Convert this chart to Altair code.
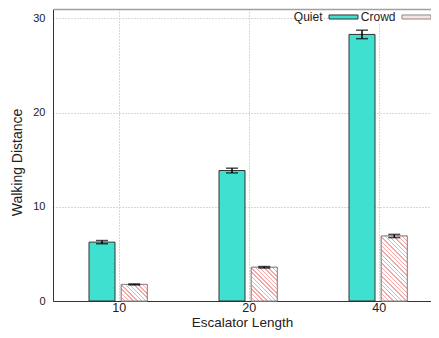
import json
import math
import altair as alt
import pandas as pd

# ---- data ----
lengths = ["10", "20", "40"]
series = ["Quiet", "Crowd"]
quiet = [6.25, 13.85, 28.3]
quiet_err = [0.17, 0.25, 0.45]
crowd = [1.76, 3.58, 6.9]
crowd_err = [0.05, 0.08, 0.17]

# ---- layout / style ----
Y_MAX = 31
PX_PER_X = 130
PLOT_W, PLOT_H = 378, 292
X_DOM = [0.495, 0.495 + PLOT_W / PX_PER_X]
BAR_W = 0.2
FONT = "Liberation Sans"
TEAL = "#40e0d0"
HATCH = "#f5a8a8"

rows = []
for i, L in enumerate(lengths):
    rows.append({"idx": i + 1, "length": L, "series": "Quiet", "value": quiet[i], "err": quiet_err[i]})
    rows.append({"idx": i + 1, "length": L, "series": "Crowd", "value": crowd[i], "err": crowd_err[i]})
df = pd.DataFrame(rows)

base = alt.Chart(df).transform_calculate(
    off="datum.series === 'Quiet' ? -0.228 : 0.02"
).transform_calculate(
    x0="datum.idx + datum.off",
    x1=f"datum.idx + datum.off + {BAR_W}",
    xc=f"datum.idx + datum.off + {BAR_W / 2}",
    lo="datum.value - datum.err",
    hi="datum.value + datum.err",
)

xscale = alt.Scale(domain=X_DOM, nice=False, zero=False)
yscale = alt.Scale(domain=[0, Y_MAX], nice=False)

label_expr = f"{json.dumps(lengths)}[datum.value - 1]"

x_axis = alt.Axis(
    values=[1, 2, 3], labelExpr=label_expr, title="Escalator Length",
    grid=True, gridDash=[1, 2], gridColor="#b0b0b0", domainColor="#333333",
    ticks=False, labelPadding=0, labelFontSize=12.5, titleFontSize=13.5,
    titleFontWeight="normal", titleBaseline="alphabetic", titleY=25,
)
y_axis = alt.Axis(
    values=[0, 10, 20, 30], title="Walking Distance",
    grid=True, gridDash=[1, 2], gridColor="#b0b0b0", domainColor="#333333",
    ticks=False, labelPadding=8, labelFontSize=11, titleFontSize=14,
    titleFontWeight="normal", titleBaseline="alphabetic", titleX=-32, titleY=153,
)

legend = alt.Legend(
    orient="none", legendX=281.5, legendY=-1, direction="horizontal", title=None,
    labelFontSize=12, labelFont=FONT, labelColor="#222222",
    symbolType="M-2,-0.28H2V0.28H-2Z", symbolSize=210, symbolStrokeWidth=1,
    labelAlign="right", labelOffset={"expr": "-29"}, columnPadding=0,
    padding=1, fillColor="white", zindex=0,
)

bars = base.mark_bar(strokeWidth=1).encode(
    x=alt.X("x0:Q", scale=xscale, axis=x_axis),
    x2="x1:Q",
    y=alt.Y("value:Q", scale=yscale, axis=y_axis),
    y2=alt.datum(0),
    fill=alt.Fill("series:N", scale=alt.Scale(domain=series, range=[TEAL, "#fbe2e2"]), legend=legend),
    stroke=alt.Stroke("series:N", scale=alt.Scale(domain=series, range=["#333333", "#8a8a8a"]), legend=legend),
)

# hatch overlay for the Crowd bars (diagonal stripes through a gradient)
W = BAR_W * PX_PER_X
hatch_layers = []
for i, v in enumerate(crowd):
    H = v / Y_MAX * PLOT_H
    s = (W + H) / (W * W + H * H)
    n = max(1, round((W + H) / math.sqrt(2) / 3.1))
    stops = []
    for k in range(n):
        a = k / n
        b = (k + 0.66) / n
        c = (k + 1) / n
        stops += [
            alt.GradientStop(color="white", offset=a),
            alt.GradientStop(color="white", offset=b),
            alt.GradientStop(color=HATCH, offset=b),
            alt.GradientStop(color=HATCH, offset=c),
        ]
    grad = alt.LinearGradient(gradient="linear", stops=stops, x1=0, y1=1, x2=s * W, y2=1 - s * H)
    hatch_layers.append(
        base.transform_filter(f"datum.series === 'Crowd' && datum.idx === {i + 1}")
        .mark_bar(fill=grad, stroke="#8a8a8a", strokeWidth=1)
        .encode(
            x=alt.X("x0:Q", scale=xscale, axis=None),
            x2="x1:Q",
            y=alt.Y("value:Q", scale=yscale, axis=y_axis),
            y2=alt.datum(0),
        )
    )

rules = base.mark_rule(color="black", strokeWidth=1.5).encode(
    x=alt.X("xc:Q", scale=xscale, axis=alt.Axis(orient="top", labels=False, ticks=False, grid=False,
                                                 domainColor="#a0a0a0", domainWidth=1.5, title=None,
                                                 zindex=2)),
    y=alt.Y("lo:Q", scale=yscale, axis=y_axis),
    y2="hi:Q",
)

caps = base.transform_fold(["lo", "hi"], as_=["end", "yv"]).mark_tick(
    orient="horizontal", size=12, thickness=1.5, color="black"
).encode(
    x=alt.X("xc:Q", scale=xscale, axis=None),
    y=alt.Y("yv:Q", scale=yscale, axis=y_axis),
)

chart = alt.layer(bars, *hatch_layers, rules, caps).resolve_axis(x="independent").properties(
    width=PLOT_W, height=PLOT_H,
    autosize=alt.AutoSizeParams(type="none"),
    padding={"left": 45, "top": 1, "right": 0, "bottom": 29},
).configure_view(stroke=None).configure_axis(
    labelFont=FONT, titleFont=FONT, labelColor="#222222", titleColor="#222222"
)

chart.save("out.html", embed_options={"renderer": "svg", "actions": False})
